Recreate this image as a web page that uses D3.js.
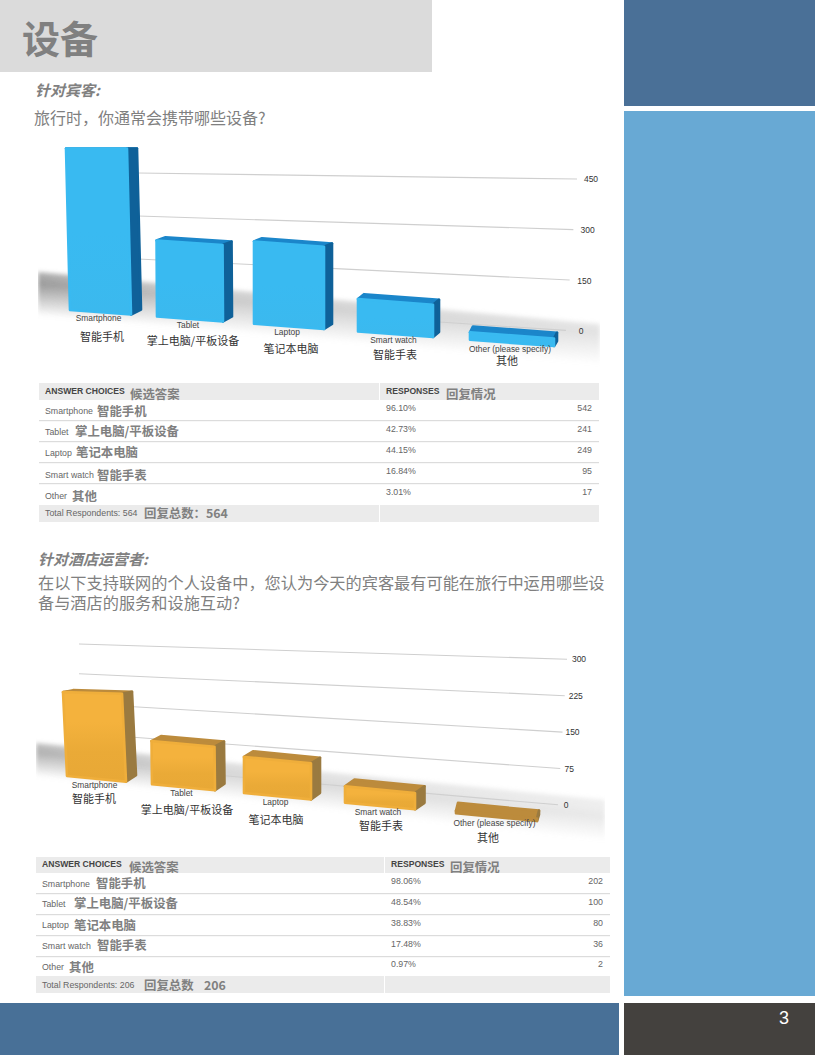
<!DOCTYPE html>
<html>
<head>
<meta charset="utf-8">
<script src="https://cdn.jsdelivr.net/npm/d3@7/dist/d3.min.js"></script>
<style>
  html, body { margin: 0; padding: 0; background: #fff; }
  svg { display: block; }
  text { font-family: "Liberation Sans", sans-serif; }
  .zh { font-family: "Noto Sans CJK SC", sans-serif; }
</style>
</head>
<body>
<svg id="page" width="815" height="1055"></svg>
<script>
// values
const categories = ["Smartphone", "Tablet", "Laptop", "Smart watch", "Other (please specify)"];
const categoriesZh = ["智能手机", "掌上电脑/平板设备", "笔记本电脑", "智能手表", "其他"];
const rowLabels = ["Smartphone", "Tablet", "Laptop", "Smart watch", "Other"];

const guestCounts = [542, 241, 249, 95, 17];
const guestPercents = ["96.10%", "42.73%", "44.15%", "16.84%", "3.01%"];
const guestTicks = [0, 150, 300, 450];

const hotelCounts = [202, 100, 80, 36, 2];
const hotelPercents = ["98.06%", "48.54%", "38.83%", "17.48%", "0.97%"];
const hotelTicks = [0, 75, 150, 225, 300];

const svg = d3.select("#page");
const defs = svg.append("defs");
const grey = "#808080";
const idx = [0, 1, 2, 3, 4];

// page furniture
function block(x, y, w, h, fill) {
  svg.append("rect").attr("x", x).attr("y", y).attr("width", w).attr("height", h).attr("fill", fill);
}
block(0, 0, 432, 72, "#dbdbdb");
block(624, 0, 191, 106, "#4a7097");
block(624, 111, 191, 885, "#68a9d4");
block(0, 1003, 619, 52, "#487097");
block(624, 1003, 191, 52, "#44413e");

function zh(x, y, s, size, opts = {}) {
  return svg.append("text").attr("class", "zh").attr("x", x).attr("y", y + 1.5)
    .attr("dominant-baseline", "middle")
    .attr("font-size", size).attr("fill", opts.fill || grey)
    .attr("font-weight", opts.weight || 400)
    .attr("font-style", opts.style || "normal")
    .attr("text-anchor", opts.anchor || "start")
    .text(s);
}
function en(x, y, s, size, opts = {}) {
  return svg.append("text").attr("x", x).attr("y", y + 1)
    .attr("dominant-baseline", "middle")
    .attr("font-size", size).attr("fill", opts.fill || "#666")
    .attr("font-weight", opts.weight || 400)
    .attr("text-anchor", opts.anchor || "start")
    .text(s);
}

zh(22, 41, "设备", 38, { weight: 700 });
zh(35, 90, "针对宾客:", 15, { weight: 700, style: "italic" });
zh(34, 118, "旅行时，你通常会携带哪些设备?", 16);
zh(38, 559, "针对酒店运营者:", 15, { weight: 700, style: "italic" });
const question = zh(38, 583, "", 16.2);
question.append("tspan").attr("x", 38).text("在以下支持联网的个人设备中，您认为今天的宾客最有可能在旅行中运用哪些设");
question.append("tspan").attr("x", 38).attr("dy", 20).text("备与酒店的服务和设施互动?");
svg.append("text").attr("x", 784).attr("y", 1019).attr("dominant-baseline", "middle")
  .attr("text-anchor", "middle").attr("font-family", "Open Sans").attr("font-size", 18)
  .attr("fill", "#fff").text("3");

// fake 3D column chart: front plane of the bars plus a depth offset
function drawChart(c) {
  const g = svg.append("g");
  const vmax = d3.max(c.counts);
  const xLeft = d3.scaleLinear().domain(idx).range(c.lefts);
  const xRight = d3.scaleLinear().domain(idx).range(c.rights);
  const baseY = d3.scaleLinear().domain(c.baseX).range(c.baseRange);
  const unit = d3.scaleLinear().domain(idx).range(c.unit);
  const lean = d3.scaleLinear().domain([0, 1, 2]).range(c.lean).clamp(true);
  const flatten = d3.scaleLinear().domain(idx).range(c.flatten);
  const depthX = d3.scaleLinear().domain(idx).range(c.depthX);
  const depthY = d3.scaleLinear().domain([0, vmax]).range(c.depthY);
  const gridL = d3.scaleLinear().domain([0, c.ticks[c.ticks.length - 1]]).range(c.gridLeft);
  const gridR = d3.scaleLinear().domain([0, c.ticks[c.ticks.length - 1]]).range(c.gridRight);
  const gridEnd = d3.scaleLinear().domain(d3.extent(c.ticks)).range(c.gridEnd);
  const labelX = d3.scaleLinear().domain(d3.extent(c.ticks)).range(c.labelX);
  const zhX = d3.scaleLinear().domain(idx).range(c.zhX);
  const zhY = d3.scaleLinear().domain(idx).range(c.zhY);

  // floor shadow, fading toward the viewer and to the right
  const [sa, sb, sc, sd] = c.shadow;
  const across = defs.append("linearGradient").attr("id", c.id + "Shadow")
    .attr("gradientUnits", "userSpaceOnUse")
    .attr("x1", sa[0]).attr("y1", sa[1]).attr("x2", sd[0] - 4).attr("y2", sd[1]);
  across.append("stop").attr("offset", 0).attr("stop-color", c.shadowColor).attr("stop-opacity", 0.75);
  across.append("stop").attr("offset", 0.25).attr("stop-color", c.shadowColor).attr("stop-opacity", 1);
  across.append("stop").attr("offset", 0.6).attr("stop-color", c.shadowColor).attr("stop-opacity", 0.5);
  across.append("stop").attr("offset", 0.95).attr("stop-color", c.shadowColor).attr("stop-opacity", 0);
  const along = defs.append("linearGradient").attr("id", c.id + "Fade");
  along.append("stop").attr("offset", 0).attr("stop-color", "#fff");
  along.append("stop").attr("offset", 0.3).attr("stop-color", "#888");
  along.append("stop").attr("offset", 1).attr("stop-color", "#484848");
  const ext = d3.extent([sa, sb, sc, sd], p => p[1]);
  defs.append("mask").attr("id", c.id + "Mask").attr("maskUnits", "userSpaceOnUse")
    .attr("x", sa[0]).attr("y", ext[0] - 10).attr("width", sb[0] - sa[0]).attr("height", ext[1] - ext[0] + 20)
    .append("rect").attr("x", sa[0]).attr("y", ext[0] - 10)
    .attr("width", sb[0] - sa[0]).attr("height", ext[1] - ext[0] + 20)
    .attr("fill", `url(#${c.id}Fade)`);
  defs.append("filter").attr("id", c.id + "Blur").attr("filterUnits", "userSpaceOnUse")
    .attr("x", 0).attr("y", ext[0] - 20).attr("width", 815).attr("height", ext[1] - ext[0] + 40)
    .append("feGaussianBlur").attr("stdDeviation", 2);
  g.append("g").attr("mask", `url(#${c.id}Mask)`)
    .append("polygon").attr("points", c.shadow.join(" "))
    .attr("fill", `url(#${c.id}Shadow)`).attr("filter", `url(#${c.id}Blur)`);

  // tilted gridlines
  const slope = v => d3.scaleLinear().domain(c.gridX).range([gridL(v), gridR(v)]);
  g.selectAll("line.grid").data(c.ticks).join("line").attr("class", "grid")
    .attr("x1", v => v === 0 ? c.zeroStart : c.gridX[0])
    .attr("y1", v => slope(v)(v === 0 ? c.zeroStart : c.gridX[0]))
    .attr("x2", v => gridEnd(v))
    .attr("y2", v => slope(v)(gridEnd(v)))
    .attr("stroke", "#cfcfcf").attr("stroke-width", 1.1);
  g.selectAll("text.tick").data(c.ticks).join("text").attr("class", "tick")
    .attr("x", v => labelX(v)).attr("y", v => gridR(v) + 1)
    .attr("text-anchor", "middle").attr("dominant-baseline", "middle")
    .attr("font-size", 8.5).attr("fill", "#333").text(v => v);

  // bars
  const fid = c.id + "Front";
  const fg = defs.append("linearGradient").attr("id", fid).attr("x1", 0).attr("x2", 0).attr("y1", 0).attr("y2", 1);
  c.frontStops.forEach((s, i) => fg.append("stop").attr("offset", i / (c.frontStops.length - 1)).attr("stop-color", s));

  const bars = idx.map(i => {
    const v = c.counts[i];
    const bl = [xLeft(i), baseY(xLeft(i))];
    const br = [xRight(i), baseY(xRight(i))];
    const tl = [bl[0] + lean(i) * v / vmax, bl[1] - unit(i) * v];
    const tr = [br[0] + lean(i) * v / vmax, br[1] - unit(i) * v - flatten(i)];
    const dx = depthX(i), dTop = depthY(v), dBase = c.depthBase;
    return {
      i,
      front: [tl, tr, br, bl],
      top: [tl, tr, [tr[0] + dx, tr[1] - dTop], [tl[0] + dx, tl[1] - dTop]],
      side: [tr, br, [br[0] + dx, br[1] - dBase], [tr[0] + dx, tr[1] - dTop]]
    };
  });
  const face = (key, fill, stroke) => g.selectAll("polygon." + key).data(bars).join("polygon")
    .attr("class", key).attr("points", d => d[key].join(" "))
    .attr("fill", fill).attr("stroke", stroke).attr("stroke-width", 2.6).attr("stroke-linejoin", "round");
  face("top", c.topColor, c.topColor);
  face("side", c.sideColor, c.sideColor);
  // the smallest hotel bar reads as all lid, nothing of the front shows
  const small = d => c.lidOnly && d.i === 4;
  face("front", d => small(d) ? c.topColor : `url(#${fid})`, d => small(d) ? c.topColor : c.edgeColor);

  // category labels, english then the pasted-on chinese
  g.selectAll("text.cat").data(categories).join("text").attr("class", "cat")
    .attr("x", (d, i) => (xLeft(i) + xRight(i)) / 2 - 2)
    .attr("y", (d, i) => baseY((xLeft(i) + xRight(i)) / 2) + 6.5)
    .attr("text-anchor", "middle").attr("dominant-baseline", "middle")
    .attr("font-size", 8.4).attr("fill", "#444").text(d => d);
  g.selectAll("text.catzh").data(categoriesZh).join("text").attr("class", "catzh zh")
    .attr("x", (d, i) => zhX(i)).attr("y", (d, i) => zhY(i) + 1)
    .attr("text-anchor", "middle").attr("dominant-baseline", "middle")
    .attr("font-size", 11).attr("fill", "#333").text(d => d);
}

drawChart({
  id: "guest", counts: guestCounts, ticks: guestTicks,
  lefts: [70, 157, 254, 358, 470], rights: [131, 223, 324, 433, 554],
  baseX: [70, 554], baseRange: [310, 346],
  unit: [0.298, 0.315, 0.33, 0.34, 0.44], lean: [-4, -1, 0], flatten: [4.5, 0.5, 0, 0, 0],
  depthX: [10, 9, 8, 6, 3], depthY: [6, 0], depthBase: 5,
  gridX: [138, 575], gridLeft: [302, 173], gridRight: [331, 179],
  gridEnd: [566, 577], zeroStart: 432, labelX: [581, 591],
  zhX: [102, 193, 291, 395, 507], zhY: [337, 341, 349, 355, 361],
  shadow: [[38, 272], [600, 324], [600, 368], [38, 318]], shadowColor: "#9a9a9a",
  frontStops: ["#39baf1", "#39baf1", "#3bb9ee"], edgeColor: "#39baf1",
  topColor: "#1b86ca", sideColor: "#0f6199", lidOnly: false
});

drawChart({
  id: "hotel", counts: hotelCounts, ticks: hotelTicks,
  lefts: [67, 152, 244, 345, 456], rights: [126, 215, 311, 415, 537],
  baseX: [67, 537], baseRange: [776, 821],
  unit: [0.415, 0.43, 0.45, 0.45, 1.2], lean: [-4, -1, 0], flatten: [4, 0.5, 0, 0, 0],
  depthX: [10, 9.5, 9, 9.5, 2], depthY: [8, 2], depthBase: 6.5,
  gridX: [79, 560], gridLeft: [763, 644], gridRight: [805, 659],
  gridEnd: [558, 567], zeroStart: 79, labelX: [566, 579],
  zhX: [94, 187, 276, 381, 488], zhY: [799, 810, 820, 826, 838],
  shadow: [[36, 743], [605, 800], [605, 840], [36, 778]], shadowColor: "#b0b0b0",
  frontStops: ["#f4b23d", "#f4b23d", "#eaaa37", "#e8a836"], edgeColor: "#efae3b",
  topColor: "#bc8b3c", sideColor: "#9a7a40", lidOnly: true
});

// response tables
function drawTable(t) {
  block(t.x0, t.header[0], t.x1 - t.x0, t.header[1] - t.header[0], "#ebebeb");
  block(t.x0, t.total[0], t.x1 - t.x0, t.total[1] - t.total[0], "#ebebeb");
  t.rules.forEach(y => block(t.x0, y, t.x1 - t.x0, 1.2, "#dcdcdc"));
  block(t.divider, t.header[0], 1, t.header[1] - t.header[0], "#fff");
  block(t.divider, t.total[0], 1, t.total[1] - t.total[0], "#fff");

  en(t.textX, t.headerY, "ANSWER CHOICES", 8.6, { weight: 700, fill: "#444" });
  zh(t.headZh[0], t.headZhY, "候选答案", 12.4, { weight: 700 });
  en(t.pctX, t.headerY, "RESPONSES", 8.6, { weight: 700, fill: "#444" });
  zh(t.headZh[1], t.headZhY, "回复情况", 12.4, { weight: 700 });

  rowLabels.forEach((s, i) => {
    en(t.textX, t.rowY[i], s, 8.8);
    zh(t.rowZhX[i], t.rowZhY[i], categoriesZh[i], 12.4, { weight: 700 });
    en(t.pctX, t.pctY[i], t.percents[i], 8.8);
    en(t.countX, t.pctY[i], t.counts[i], 8.8, { anchor: "end" });
  });
  en(t.textX, t.totalY, "Total Respondents: " + t.respondents, 8.8);
  zh(t.totalZhX, t.totalY, t.totalZh, 12.4, { weight: 700 });
  zh(t.totalNumX, t.totalY, t.respondents, 12.4, { weight: 700 });
}

drawTable({
  x0: 39, x1: 599, divider: 379, textX: 45, pctX: 386, countX: 592,
  header: [383, 400], total: [505, 522], rules: [420, 441, 462, 483],
  headerY: 391, headZh: [130, 446], headZhY: 394,
  rowY: [411, 432, 453, 475, 496], rowZhX: [97, 75, 76, 97, 72], rowZhY: [411, 431, 452, 475, 496],
  pctY: [408, 429, 450, 471, 492], totalY: 513, totalZhX: 144, totalNumX: 206,
  totalZh: "回复总数：", respondents: 564, percents: guestPercents, counts: guestCounts
});

drawTable({
  x0: 36, x1: 610, divider: 384, textX: 42, pctX: 391, countX: 603,
  header: [857, 873], total: [976, 993], rules: [893, 914, 935, 956],
  headerY: 864, headZh: [129, 450], headZhY: 867,
  rowY: [884, 904, 925, 946, 967], rowZhX: [96, 74, 74, 97, 69], rowZhY: [883, 903, 925, 945, 967],
  pctY: [881, 902, 923, 944, 964], totalY: 985, totalZhX: 144, totalNumX: 204,
  totalZh: "回复总数", respondents: 206, percents: hotelPercents, counts: hotelCounts
});
</script>
</body>
</html>
